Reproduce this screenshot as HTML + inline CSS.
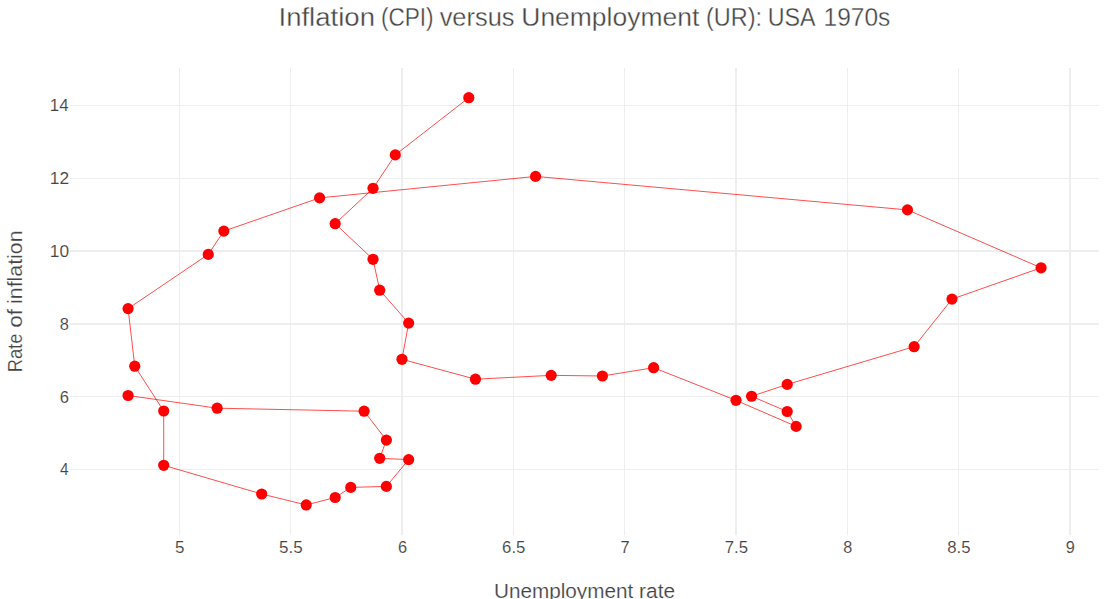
<!DOCTYPE html>
<html><head><meta charset="utf-8"><title>Inflation (CPI) versus Unemployment (UR): USA 1970s</title>
<style>html,body{margin:0;padding:0;background:#fff;overflow:hidden}svg{display:block}text{font-family:"Liberation Sans",sans-serif;fill:#444}</style></head><body>
<svg width="1106" height="599" viewBox="0 0 1106 599">
<rect width="1106" height="599" fill="#fff"/>
<g fill="#eee">
<rect x="179" y="68" width="1" height="467.0"/>
<rect x="290" y="68" width="1" height="467.0"/>
<rect x="401" y="68" width="2" height="467.0"/>
<rect x="513" y="68" width="1" height="467.0"/>
<rect x="624" y="68" width="1" height="467.0"/>
<rect x="735" y="68" width="2" height="467.0"/>
<rect x="847" y="68" width="1" height="467.0"/>
<rect x="958" y="68" width="1" height="467.0"/>
<rect x="1069" y="68" width="2" height="467.0"/>
<rect x="70" y="105" width="1029" height="1"/>
<rect x="70" y="178" width="1029" height="1"/>
<rect x="70" y="250" width="1029" height="2"/>
<rect x="70" y="323" width="1029" height="2"/>
<rect x="70" y="396" width="1029" height="1"/>
<rect x="70" y="469" width="1029" height="1"/>
</g>
<path d="M128.08,395.50L217.16,408.20L364.12,411.20L386.39,440.10L379.71,458.30L408.66,459.60L386.39,486.40L350.76,487.40L335.18,497.50L306.23,504.95L261.69,494.00L163.71,465.30L163.71,411.00L134.76,366.20L128.08,308.60L208.25,254.40L223.84,231.10L319.59,197.90L535.59,176.40L907.46,209.90L1041.07,267.80L952.00,299.10L914.14,346.70L787.22,384.40L751.59,396.25L787.22,411.50L796.12,426.40L736.00,400.30L653.61,367.70L602.39,376.00L551.18,375.35L475.46,379.20L401.98,359.30L408.66,323.10L379.71,290.20L373.03,259.30L335.18,223.70L373.03,188.30L395.30,154.90L468.78,97.70" fill="none" stroke="#f00" stroke-width="0.7" stroke-linejoin="round"/>
<g fill="#f00">
<circle cx="128.08" cy="395.50" r="5.6"/>
<circle cx="217.16" cy="408.20" r="5.6"/>
<circle cx="364.12" cy="411.20" r="5.6"/>
<circle cx="386.39" cy="440.10" r="5.6"/>
<circle cx="379.71" cy="458.30" r="5.6"/>
<circle cx="408.66" cy="459.60" r="5.6"/>
<circle cx="386.39" cy="486.40" r="5.6"/>
<circle cx="350.76" cy="487.40" r="5.6"/>
<circle cx="335.18" cy="497.50" r="5.6"/>
<circle cx="306.23" cy="504.95" r="5.6"/>
<circle cx="261.69" cy="494.00" r="5.6"/>
<circle cx="163.71" cy="465.30" r="5.6"/>
<circle cx="163.71" cy="411.00" r="5.6"/>
<circle cx="134.76" cy="366.20" r="5.6"/>
<circle cx="128.08" cy="308.60" r="5.6"/>
<circle cx="208.25" cy="254.40" r="5.6"/>
<circle cx="223.84" cy="231.10" r="5.6"/>
<circle cx="319.59" cy="197.90" r="5.6"/>
<circle cx="535.59" cy="176.40" r="5.6"/>
<circle cx="907.46" cy="209.90" r="5.6"/>
<circle cx="1041.07" cy="267.80" r="5.6"/>
<circle cx="952.00" cy="299.10" r="5.6"/>
<circle cx="914.14" cy="346.70" r="5.6"/>
<circle cx="787.22" cy="384.40" r="5.6"/>
<circle cx="751.59" cy="396.25" r="5.6"/>
<circle cx="787.22" cy="411.50" r="5.6"/>
<circle cx="796.12" cy="426.40" r="5.6"/>
<circle cx="736.00" cy="400.30" r="5.6"/>
<circle cx="653.61" cy="367.70" r="5.6"/>
<circle cx="602.39" cy="376.00" r="5.6"/>
<circle cx="551.18" cy="375.35" r="5.6"/>
<circle cx="475.46" cy="379.20" r="5.6"/>
<circle cx="401.98" cy="359.30" r="5.6"/>
<circle cx="408.66" cy="323.10" r="5.6"/>
<circle cx="379.71" cy="290.20" r="5.6"/>
<circle cx="373.03" cy="259.30" r="5.6"/>
<circle cx="335.18" cy="223.70" r="5.6"/>
<circle cx="373.03" cy="188.30" r="5.6"/>
<circle cx="395.30" cy="154.90" r="5.6"/>
<circle cx="468.78" cy="97.70" r="5.6"/>
</g>
<g font-size="16.8" stroke="#fff" stroke-width="0.12">
<text x="174.93" y="553" textLength="9.46" lengthAdjust="spacingAndGlyphs">5</text>
<text x="279.13" y="553" textLength="23.66" lengthAdjust="spacingAndGlyphs">5.5</text>
<text x="397.89" y="553" textLength="9.10" lengthAdjust="spacingAndGlyphs">6</text>
<text x="502.07" y="553" textLength="23.31" lengthAdjust="spacingAndGlyphs">6.5</text>
<text x="620.51" y="553" textLength="9.14" lengthAdjust="spacingAndGlyphs">7</text>
<text x="724.69" y="553" textLength="23.29" lengthAdjust="spacingAndGlyphs">7.5</text>
<text x="843.16" y="553" textLength="9.01" lengthAdjust="spacingAndGlyphs">8</text>
<text x="947.34" y="553" textLength="23.24" lengthAdjust="spacingAndGlyphs">8.5</text>
<text x="1065.75" y="553" textLength="9.06" lengthAdjust="spacingAndGlyphs">9</text>
<text x="49.85" y="111" textLength="18.78" lengthAdjust="spacingAndGlyphs">14</text>
<text x="49.81" y="184" textLength="19.31" lengthAdjust="spacingAndGlyphs">12</text>
<text x="49.81" y="257" textLength="19.23" lengthAdjust="spacingAndGlyphs">10</text>
<text x="59.75" y="330" textLength="9.13" lengthAdjust="spacingAndGlyphs">8</text>
<text x="59.68" y="403" textLength="9.22" lengthAdjust="spacingAndGlyphs">6</text>
<text x="60.10" y="475" textLength="8.57" lengthAdjust="spacingAndGlyphs">4</text>
</g>
<g font-size="25.3" stroke="#fff" stroke-width="0.33">
<text x="278.50" y="26" textLength="96.47" lengthAdjust="spacingAndGlyphs">Inflation</text>
<text x="380.97" y="26" textLength="52.67" lengthAdjust="spacingAndGlyphs">(CPI)</text>
<text x="439.67" y="26" textLength="74.83" lengthAdjust="spacingAndGlyphs">versus</text>
<text x="521.28" y="26" textLength="178.01" lengthAdjust="spacingAndGlyphs">Unemployment</text>
<text x="705.91" y="26" textLength="56.13" lengthAdjust="spacingAndGlyphs">(UR):</text>
<text x="767.65" y="26" textLength="47.79" lengthAdjust="spacingAndGlyphs">USA</text>
<text x="823.58" y="26" textLength="66.74" lengthAdjust="spacingAndGlyphs">1970s</text>
</g>
<g font-size="19.6" stroke="#fff" stroke-width="0.18">
<text x="493.98" y="597.6" textLength="139.19" lengthAdjust="spacingAndGlyphs">Unemployment</text>
<text x="639.14" y="597.6" textLength="35.91" lengthAdjust="spacingAndGlyphs">rate</text>
</g>
<g font-size="19.6" stroke="#fff" stroke-width="0.18" transform="translate(21.8,371) rotate(-90)">
<text x="-1.32" y="0" textLength="38.68" lengthAdjust="spacingAndGlyphs">Rate</text>
<text x="43.39" y="0" textLength="18.69" lengthAdjust="spacingAndGlyphs">of</text>
<text x="67.13" y="0" textLength="73.36" lengthAdjust="spacingAndGlyphs">inflation</text>
</g>
</svg></body></html>
